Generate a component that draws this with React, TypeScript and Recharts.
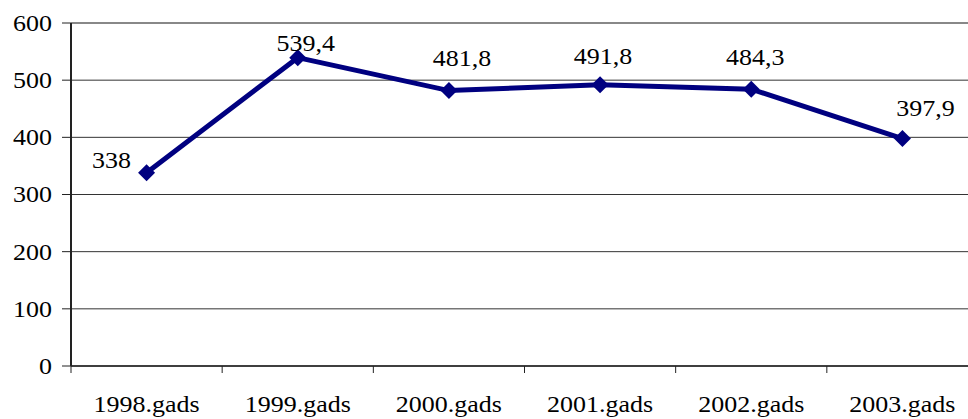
import { LineChart, Line, XAxis, YAxis, CartesianGrid, ReferenceLine, LabelList } from "recharts";

// values
const years = ["1998.gads", "1999.gads", "2000.gads", "2001.gads", "2002.gads", "2003.gads"];
const amounts = [338, 539.4, 481.8, 491.8, 484.3, 397.9];
const yTicks = [0, 100, 200, 300, 400, 500, 600];

const data = years.map((year, i) => ({ year, value: amounts[i] }));

// layout
const CHART_W = 980;
const CHART_H = 419;
const Y_AXIS_W = 71;
const MARGIN_RIGHT = 2;
const BAND = (CHART_W - Y_AXIS_W - MARGIN_RIGHT) / years.length;
const FONT = "Liberation Serif";
const FONT_SIZE = 23;
const STRETCH = 1.13; // the source picture is slightly wider than tall
const NAVY = "#000080";

// hand-placed label offsets (centre dx, baseline dy) from each point
const labelNudge = [[-35, -5], [8, -7], [13, -25], [3, -21], [4, -24], [23, -23]];

const fmt = (v: number) => String(v).replace(".", ",");

function Stretched({ x, y, anchor, children }: any) {
    return (
        <text
            x={x}
            y={y}
            textAnchor={anchor}
            fill="#000"
            style={{ fontFamily: FONT, fontSize: FONT_SIZE }}
            transform={`translate(${x},${y}) scale(${STRETCH},1) translate(${-x},${-y})`}
        >
            {children}
        </text>
    );
}

function YTick({ x, y, payload }: any) {
    return <Stretched x={x} y={y + 8} anchor="end">{payload.value}</Stretched>;
}

function XTick({ x, y, payload }: any) {
    const left = x - BAND / 2;
    return (
        <g>
            <line x1={left} x2={left} y1={y} y2={y + 7} stroke="#222" strokeWidth={1} />
            <Stretched x={x} y={y + 46} anchor="middle">{payload.value}</Stretched>
        </g>
    );
}

function Diamond({ cx, cy }: any) {
    const r = 8.5;
    return (
        <polygon
            points={`${cx},${cy - r} ${cx + r},${cy} ${cx},${cy + r} ${cx - r},${cy}`}
            fill={NAVY}
        />
    );
}

function PointLabel({ x, y, value, index }: any) {
    const [dx, dy] = labelNudge[index] ?? [0, -20];
    return <Stretched x={x + dx} y={y + dy} anchor="middle">{fmt(value)}</Stretched>;
}

export default function App() {
    return (
        <div style={{ position: "absolute", left: 0, top: 0, width: 968, height: 419, overflow: "hidden", background: "#fff" }}>
            <LineChart
                width={CHART_W}
                height={CHART_H}
                data={data}
                margin={{ top: 23, right: MARGIN_RIGHT, bottom: 0, left: 0 }}
            >
                <CartesianGrid vertical={false} stroke="#333" strokeWidth={1} />
                <ReferenceLine y={600} stroke="#888" strokeWidth={2} />
                <XAxis
                    dataKey="year"
                    height={53}
                    padding={{ left: BAND / 2, right: BAND / 2 }}
                    tickLine={false}
                    tickSize={0}
                    tickMargin={0}
                    tick={<XTick />}
                    axisLine={{ stroke: "#222", strokeWidth: 1.5 }}
                    interval={0}
                />
                <YAxis
                    width={Y_AXIS_W}
                    domain={[0, 600]}
                    ticks={yTicks}
                    interval={0}
                    tickSize={9}
                    tickMargin={10}
                    tick={<YTick />}
                    tickLine={{ stroke: "#222" }}
                    axisLine={{ stroke: "#222", strokeWidth: 2 }}
                />
                <Line
                    type="linear"
                    dataKey="value"
                    stroke={NAVY}
                    strokeWidth={5}
                    dot={(p: any) => <Diamond key={p.index} cx={p.cx} cy={p.cy} />}
                    activeDot={false}
                    isAnimationActive={false}
                >
                    <LabelList dataKey="value" content={<PointLabel />} />
                </Line>
            </LineChart>
        </div>
    );
}
